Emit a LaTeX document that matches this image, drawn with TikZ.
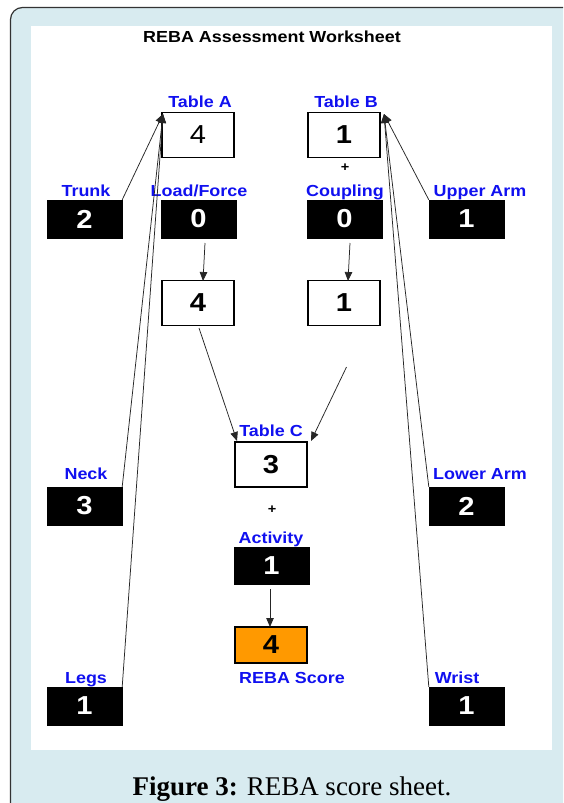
\documentclass[tikz,border=0pt]{standalone}
\usepackage{fontspec}
\setmainfont{Liberation Sans}
\newfontfamily\arialx[FakeStretch=1.12]{Liberation Sans}
\newfontfamily\capfont{Liberation Serif}
\usetikzlibrary{arrows.meta}
\definecolor{panelbg}{HTML}{D8EBF0}
\definecolor{lblblue}{HTML}{1010F0}
\definecolor{scoreorange}{HTML}{FF9900}
\tikzset{
  lbl/.style={text=lblblue,font=\arialx\bfseries\fontsize{16}{16}\selectfont,inner sep=0pt,anchor=base},
  blackbox/.style={fill=black,draw=black,minimum width=75pt,minimum height=38pt,inner sep=0pt,text=white,font=\arialx\bfseries\fontsize{26}{26}\selectfont},
  whitebox/.style={fill=white,draw=black,line width=1.7pt,minimum width=72pt,minimum height=45pt,inner sep=0pt,text=black,font=\arialx\bfseries\fontsize{26}{26}\selectfont},
  conn/.style={draw=black!85,line width=0.75pt,-{Triangle[length=9pt,width=7.5pt]}},
  plus/.style={font=\arialx\bfseries\fontsize{13}{13}\selectfont,inner sep=0pt}
}
\begin{document}
\begin{tikzpicture}[x=1pt,y=-1pt]
\useasboundingbox (0,0) rectangle (563,803);
\fill[white] (0,0) rectangle (563,803);
\begin{scope}
\clip (0,0) rectangle (563,803);
\draw[fill=panelbg,draw=black!80,line width=1.2pt,rounded corners=12pt] (10.5,7.5) rectangle (590,830);
\end{scope}
\fill[white] (31,26) rectangle (552,750);
% title
\node[font=\arialx\bfseries\fontsize{16}{16}\selectfont,inner sep=0pt] (title) at (272,37) {REBA Assessment Worksheet};
% table A and B
\node[lbl] (lA) at (200,107) {Table A};
\node[whitebox,font=\arialx\fontsize{26}{26}\selectfont] (tA) at (198,135) {4};
\node[lbl] (lB) at (346,107) {Table B};
\node[whitebox] (tB) at (344,135) {1};
\node[plus] (p1) at (345,168) {+};
% row 2
\node[lbl] (lTrunk) at (86,196) {Trunk};
\node[blackbox] (trunk) at (84.5,219) {2};
\node[lbl] (lLoad) at (199,196) {Load/Force};
\node[blackbox] (load) at (198.5,219) {0};
\node[lbl] (lCoup) at (345,196) {Coupling};
\node[blackbox] (coup) at (344.5,219) {0};
\node[lbl] (lUA) at (480,196) {Upper Arm};
\node[blackbox] (ua) at (466.5,219) {1};
% intermediate
\node[whitebox] (sA) at (198,303) {4};
\node[whitebox] (sB) at (344,303) {1};
% table C
\node[lbl] (lC) at (271,436) {Table C};
\node[whitebox] (tC) at (271,464.5) {3};
\node[plus] (p2) at (272,510) {+};
% neck / lower arm
\node[lbl] (lNeck) at (86,479) {Neck};
\node[blackbox] (neck) at (84.5,506) {3};
\node[lbl] (lLA) at (480,479) {Lower Arm};
\node[blackbox] (la) at (466.5,506) {2};
% activity
\node[lbl] (lAct) at (271,543) {Activity};
\node[blackbox,minimum height=37pt] (act) at (271.5,565.5) {1};
% score
\node[whitebox,fill=scoreorange,minimum height=36pt] (score) at (271,645) {4};
\node[lbl] (lScore) at (292,683) {REBA Score};
% legs / wrist
\node[lbl] (lLegs) at (86,683) {Legs};
\node[blackbox] (legs) at (84.5,706) {1};
\node[lbl] (lWrist) at (457,683) {Wrist};
\node[blackbox] (wrist) at (466.5,706) {1};
% coordinates
\coordinate (tipA) at (163,114);
\coordinate (tipB) at (384,114);
\coordinate (loadS) at (205,243);
\coordinate (sAN) at (203,281);
\coordinate (coupS) at (350,243);
\coordinate (sBN) at (348,281);
\coordinate (sAS) at (199,328);
\coordinate (cL) at (237,441);
\coordinate (free) at (346.5,367);
\coordinate (cR) at (311,441);
\coordinate (actS) at (270,589);
\coordinate (scoreN) at (270,627);
% connectors
\draw[conn] (trunk.north east) -- (tipA);
\draw[conn] (neck.north east) -- (tipA);
\draw[conn] (legs.north east) -- (tipA);
\draw[conn] (ua.north west) -- (tipB);
\draw[conn] (la.north west) -- (tipB);
\draw[conn] (wrist.north west) -- (tipB);
\draw[conn] (loadS) -- (sAN);
\draw[conn] (coupS) -- (sBN);
\draw[conn] (sAS) -- (cL);
\draw[conn] (free) -- (cR);
\draw[conn] (actS) -- (scoreN);
% caption
\node[font=\capfont\fontsize{27}{27}\selectfont,inner sep=0pt,anchor=base] (cap) at (292,795) {\textbf{Figure 3:} REBA score sheet.};
\end{tikzpicture}
\end{document}
